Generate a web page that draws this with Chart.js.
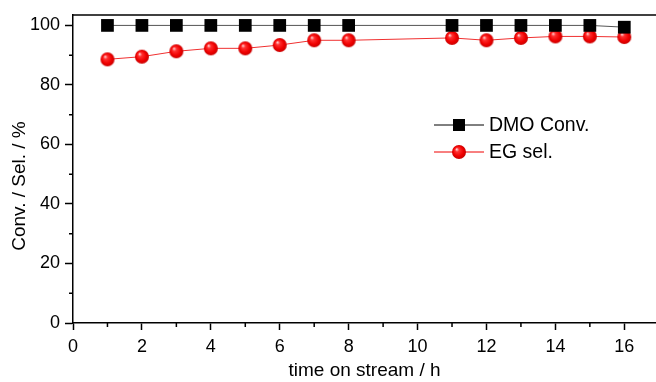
<!DOCTYPE html>
<html>
<head>
<meta charset="utf-8">
<script src="https://cdn.jsdelivr.net/npm/chart.js@4"></script>
<style>
  html, body { margin: 0; padding: 0; background: #fff; }
  #wrap { width: 656px; height: 382px; }
</style>
</head>
<body>
<div id="wrap"><canvas id="chart" width="656" height="382"></canvas></div>
<script>
// data
const hours = [1, 2, 3, 4, 5, 6, 7, 8, 11, 12, 13, 14, 15, 16];
const dmoConv = [100, 100, 100, 100, 100, 100, 100, 100, 100, 100, 100, 100, 100, 99.4];
const egSel = [88.6, 89.5, 91.3, 92.3, 92.3, 93.4, 95.0, 95.0, 95.8, 95.0, 95.8, 96.3, 96.3, 96.1];
const xTicks = [0, 2, 4, 6, 8, 10, 12, 14, 16];
const yTicks = [0, 20, 40, 60, 80, 100];

const FONT = "'Liberation Sans', Arial, sans-serif";

// shiny red ball marker
function makeBall(r) {
  const c = document.createElement("canvas");
  c.width = c.height = r * 2 + 2;
  const g = c.getContext("2d");
  const cx = r + 1, cy = r + 1;
  const grad = g.createRadialGradient(cx - r * 0.35, cy - r * 0.4, r * 0.05, cx, cy, r);
  grad.addColorStop(0, "#ffd0d0");
  grad.addColorStop(0.25, "#ff3030");
  grad.addColorStop(0.7, "#f00000");
  grad.addColorStop(1, "#c80000");
  g.fillStyle = grad;
  g.beginPath();
  g.arc(cx, cy, r, 0, Math.PI * 2);
  g.fill();
  return c;
}
const ball = makeBall(7);

// minor ticks, top frame line, y title and the legend
const extras = {
  id: "extras",
  afterDraw(chart) {
    const ctx = chart.ctx;
    const x = chart.scales.x, y = chart.scales.y;
    const a = chart.chartArea;
    ctx.save();
    ctx.strokeStyle = "#000";
    ctx.lineWidth = 1.5;
    ctx.beginPath();
    ctx.moveTo(a.left, a.top);
    ctx.lineTo(a.right, a.top);
    ctx.stroke();
    ctx.beginPath();
    for (let v = 1; v <= 15; v += 2) {
      const px = x.getPixelForValue(v);
      ctx.moveTo(px, a.bottom);
      ctx.lineTo(px, a.bottom + 4);
    }
    for (let v = 10; v <= 90; v += 20) {
      const py = y.getPixelForValue(v);
      ctx.moveTo(a.left, py);
      ctx.lineTo(a.left - 4, py);
    }
    ctx.stroke();

    // y axis title
    ctx.fillStyle = "#000";
    ctx.font = "19px " + FONT;
    ctx.textAlign = "center";
    ctx.textBaseline = "middle";
    ctx.translate(20, 186);
    ctx.rotate(-Math.PI / 2);
    ctx.fillText("Conv. / Sel. / %", 0, 0);
    ctx.setTransform(1, 0, 0, 1, 0, 0);

    // legend
    const items = [
      { label: "DMO Conv.", color: "#000", mark: "square" },
      { label: "EG sel.", color: "#f00000", mark: "ball" }
    ];
    const lx = 434, ly = 125;
    ctx.font = "19.5px " + FONT;
    ctx.textAlign = "left";
    items.forEach((it, i) => {
      const yy = ly + i * 27;
      ctx.strokeStyle = it.color;
      ctx.lineWidth = 1;
      ctx.beginPath();
      ctx.moveTo(lx, yy);
      ctx.lineTo(lx + 50, yy);
      ctx.stroke();
      if (it.mark === "square") {
        ctx.fillStyle = "#000";
        ctx.fillRect(lx + 19, yy - 6, 12, 12);
      } else {
        ctx.drawImage(ball, lx + 25 - ball.width / 2, yy - ball.height / 2);
      }
      ctx.fillStyle = "#000";
      ctx.fillText(it.label, lx + 55, yy + 1);
    });
    ctx.restore();
  }
};

new Chart(document.getElementById("chart"), {
  type: "line",
  data: {
    datasets: [
      {
        label: "DMO Conv.",
        data: hours.map((h, i) => ({ x: h, y: dmoConv[i] })),
        borderColor: "#555",
        borderWidth: 1,
        pointStyle: "rect",
        pointRadius: 9,
        pointBackgroundColor: "#000",
        pointBorderColor: "#000",
        pointBorderWidth: 0,
        tension: 0
      },
      {
        label: "EG sel.",
        data: hours.map((h, i) => ({ x: h, y: egSel[i] })),
        borderColor: "#f03030",
        borderWidth: 1,
        pointStyle: ball,
        tension: 0
      }
    ]
  },
  plugins: [extras],
  options: {
    responsive: false,
    animation: false,
    layout: { autoPadding: false, padding: { top: 15, right: 0, left: 0, bottom: 0 } },
    plugins: {
      legend: { display: false },
      tooltip: { enabled: false }
    },
    scales: {
      x: {
        type: "linear",
        min: 0,
        max: 16.92,
        afterBuildTicks: s => { s.ticks = xTicks.map(v => ({ value: v })); },
        afterFit: s => { s.height = 59; s.paddingLeft = 0; s.paddingRight = 0; },
        ticks: { font: { size: 18, family: FONT }, color: "#000", padding: 6, maxRotation: 0 },
        grid: { drawOnChartArea: false, drawTicks: true, tickLength: 7, tickColor: "#000", tickWidth: 1.5 },
        border: { color: "#000", width: 1.5 },
        title: { display: true, text: "time on stream / h", font: { size: 19, family: FONT }, color: "#000", padding: { top: 0, bottom: 0 } }
      },
      y: {
        min: 0,
        max: 103.5,
        afterBuildTicks: s => { s.ticks = yTicks.map(v => ({ value: v })); },
        afterFit: s => { s.width = 73; s.paddingTop = 0; s.paddingBottom = 0; },
        ticks: { font: { size: 18, family: FONT }, color: "#000", padding: 5 },
        grid: { drawOnChartArea: false, drawTicks: true, tickLength: 8, tickColor: "#000", tickWidth: 1.5 },
        border: { color: "#000", width: 1.5 }
      }
    }
  }
});
</script>
</body>
</html>
